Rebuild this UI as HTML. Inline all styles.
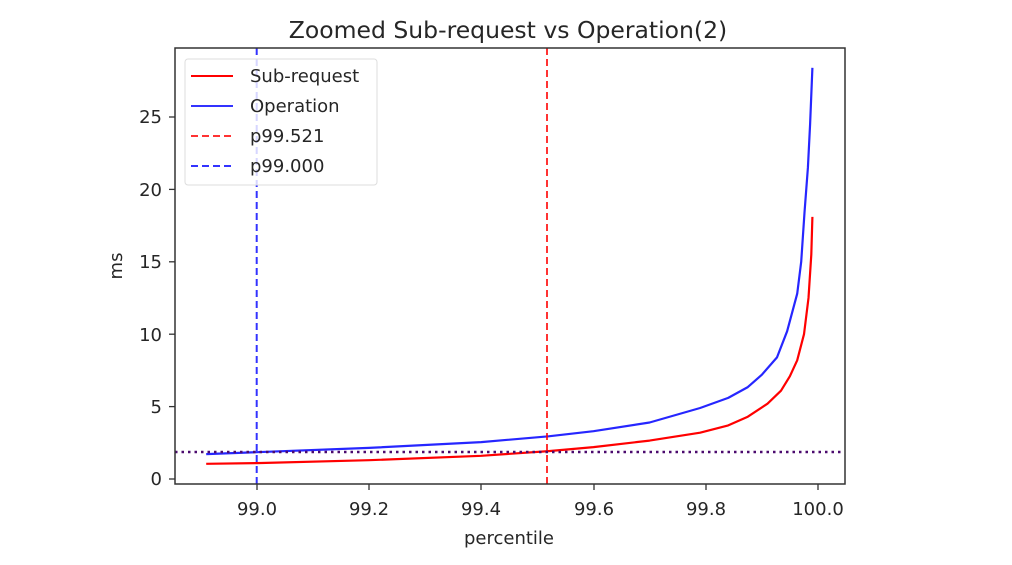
<!DOCTYPE html>
<html><head><meta charset="utf-8"><style>
body{margin:0;background:#fff;}
svg text{font-family:"DejaVu Sans","Liberation Sans",sans-serif;fill:#262626;}
</style></head><body>
<svg id="s" width="1012" height="560" xmlns="http://www.w3.org/2000/svg">
<rect width="1012" height="560" fill="#fff"/>
<text x="508" y="38" font-size="23.5" text-anchor="middle">Zoomed Sub-request vs Operation(2)</text>
<g id="plot"></g>
<rect x="175" y="48" width="670" height="436" fill="none" stroke="#333" stroke-width="1.5"/>
<g font-size="18" text-anchor="middle">
<text x="257" y="515">99.0</text><text x="369" y="515">99.2</text><text x="481" y="515">99.4</text>
<text x="594" y="515">99.6</text><text x="706" y="515">99.8</text><text x="818" y="515">100.0</text>
</g>
<g stroke="#333" stroke-width="1.3">
<line x1="257" y1="484" x2="257" y2="490"/><line x1="369" y1="484" x2="369" y2="490"/><line x1="481" y1="484" x2="481" y2="490"/>
<line x1="594" y1="484" x2="594" y2="490"/><line x1="706" y1="484" x2="706" y2="490"/><line x1="818" y1="484" x2="818" y2="490"/>
<line x1="169" y1="479" x2="175" y2="479"/><line x1="169" y1="406.6" x2="175" y2="406.6"/><line x1="169" y1="334.2" x2="175" y2="334.2"/>
<line x1="169" y1="261.8" x2="175" y2="261.8"/><line x1="169" y1="189.4" x2="175" y2="189.4"/><line x1="169" y1="117" x2="175" y2="117"/>
</g>
<g font-size="18" text-anchor="end">
<text x="162" y="485">0</text><text x="162" y="413">5</text><text x="162" y="341">10</text>
<text x="162" y="268">15</text><text x="162" y="196">20</text><text x="162" y="123">25</text>
</g>
<text x="509" y="544" font-size="18" text-anchor="middle">percentile</text>
<text x="122" y="266" font-size="18" text-anchor="middle" transform="rotate(-90 122 266)">ms</text>
<g>
<rect x="185" y="59" width="192" height="126" rx="3" fill="#fff" fill-opacity="0.8" stroke="#ddd"/>
<line x1="191" y1="76" x2="233" y2="76" stroke="#f00" stroke-width="2"/>
<line x1="191" y1="106" x2="233" y2="106" stroke="#00f" stroke-width="2" stroke-opacity="0.8"/>
<line x1="191" y1="136" x2="233" y2="136" stroke="#f00" stroke-width="2" stroke-dasharray="7,4" stroke-opacity="0.8"/>
<line x1="191" y1="166" x2="233" y2="166" stroke="#00f" stroke-width="2" stroke-dasharray="7,4" stroke-opacity="0.8"/>
<g font-size="18"><text x="250" y="82">Sub-request</text><text x="250" y="112">Operation</text>
<text x="250" y="142">p99.521</text><text x="250" y="172">p99.000</text></g>
</g>
</svg>
<script>
var X=p=>256.7+(p-99)*561.3, Y=v=>479-14.48*v;
var blue=[[98.91,1.72],[99.0,1.85],[99.2,2.15],[99.4,2.55],[99.52,2.95],[99.6,3.3],[99.7,3.9],[99.79,4.9],[99.84,5.6],[99.875,6.35],[99.9,7.2],[99.927,8.4],[99.945,10.2],[99.963,12.8],[99.97,15],[99.976,18.4],[99.982,21.5],[99.986,24.5],[99.99,28.4]];
var red=[[98.91,1.05],[99.0,1.1],[99.2,1.3],[99.4,1.6],[99.52,1.93],[99.6,2.2],[99.7,2.65],[99.79,3.2],[99.84,3.7],[99.875,4.3],[99.91,5.2],[99.934,6.1],[99.95,7.1],[99.963,8.2],[99.975,10],[99.983,12.5],[99.988,15.5],[99.99,18.1]];
function pl(d,c){return '<polyline fill="none" stroke="'+c+'" stroke-width="2.2" stroke-linejoin="round" points="'+d.map(a=>X(a[0]).toFixed(1)+','+Y(a[1]).toFixed(1)).join(' ')+'"/>';}
var g=document.getElementById('plot');
g.innerHTML=pl(red,'#f00')+pl(blue,'rgba(0,0,255,0.85)')+
'<line x1="547" y1="48" x2="547" y2="484" stroke="#f00" stroke-opacity="0.8" stroke-width="2" stroke-dasharray="7,4"/>'+
'<line x1="256.7" y1="48" x2="256.7" y2="484" stroke="#00f" stroke-opacity="0.8" stroke-width="2" stroke-dasharray="7,4"/>'+
'<line x1="175" y1="452" x2="845" y2="452" stroke="#4b0a6e" stroke-width="2.5" stroke-dasharray="2.5,4"/>';
</script>
</body></html>
